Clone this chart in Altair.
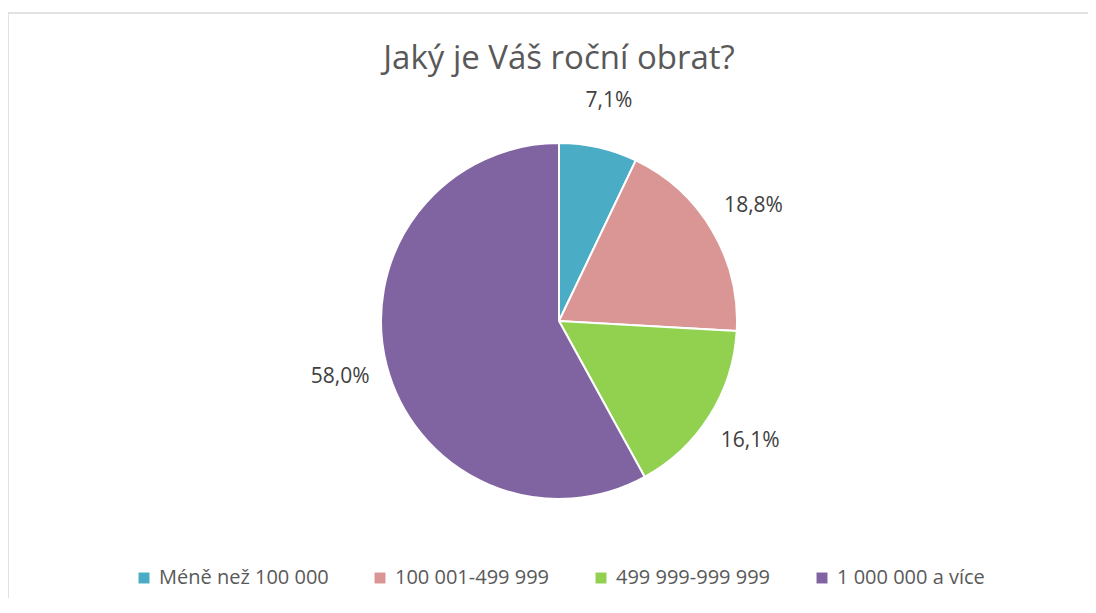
import altair as alt
import pandas as pd

categories = ["Méně než 100 000", "100 001-499 999", "499 999-999 999", "1 000 000 a více"]
values = [7.1, 18.8, 16.1, 58.0]
labels = ["7,1%", "18,8%", "16,1%", "58,0%"]
colors = ["#4BACC6", "#D99694", "#92D050", "#8064A2"]
title_text = "Jaký je Váš roční obrat?"

df = pd.DataFrame({"cat": categories, "val": values, "lab": labels, "order": list(range(len(categories)))})

W, H = 1080, 585
CX, CY = 551, 308
FONT = "Open Sans"

base = alt.Chart(df).encode(
    theta=alt.Theta("val:Q", stack=True),
    order=alt.Order("order:Q"),
)

arc = base.mark_arc(outerRadius=178, stroke="white", strokeWidth=2).encode(
    x=alt.value(CX), y=alt.value(CY),
    color=alt.Color(
        "cat:N",
        scale=alt.Scale(domain=categories, range=colors),
        sort=categories,
        legend=alt.Legend(
            title=None, orient="none", direction="horizontal",
            legendX=126, legendY=555,
            symbolType="square", symbolSize=120, symbolStrokeWidth=0,
            labelFont=FONT, labelFontSize=20, labelColor="#595959",
            labelLimit=400, columnPadding=41, labelOffset=5,
        ),
    ),
)

text = base.mark_text(radius=226, font=FONT, fontSize=21, color="#404040").encode(
    x=alt.value(CX), y=alt.value(CY),
    text="lab:N",
)

title = alt.Chart(pd.DataFrame({"t": [title_text]})).mark_text(
    font=FONT, fontSize=33, color="#595959", align="center", baseline="middle"
).encode(x=alt.value(CX), y=alt.value(46), text="t:N")

border = alt.Chart(pd.DataFrame({"a": [0]})).mark_rule(color="#D9D9D9", strokeWidth=1.5)
left_line = border.encode(x=alt.value(0), y=alt.value(0), y2=alt.value(H))
top_line = border.encode(x=alt.value(0), x2=alt.value(W), y=alt.value(0))

chart = alt.layer(left_line, top_line, arc, text, title).properties(
    width=W, height=H,
    autosize=alt.AutoSizeParams(type="none"),
    padding={"left": 0, "top": 5, "right": 0, "bottom": 0},
).configure_view(stroke=None)

chart.save("out.html", embed_options={"renderer": "svg", "actions": False})
